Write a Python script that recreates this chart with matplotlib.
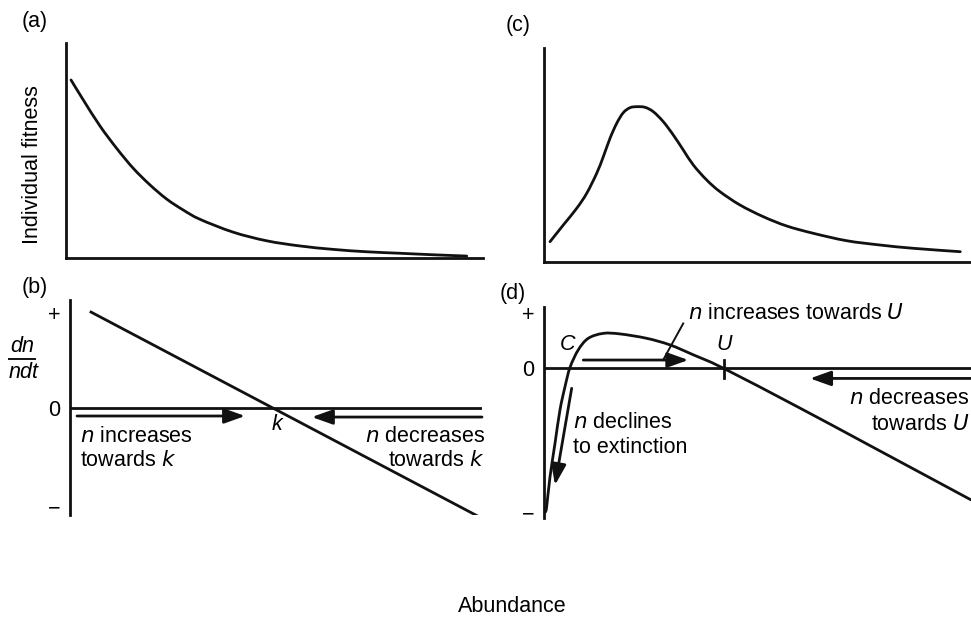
import matplotlib
matplotlib.use("Agg")
import matplotlib.pyplot as plt
from matplotlib.lines import Line2D
from matplotlib.path import Path
from matplotlib.patches import PathPatch
import numpy as np

plt.rcParams['font.family'] = ['Liberation Sans', 'DejaVu Sans']

# ---------------- data ----------------
# (a) individual fitness vs abundance (decreasing)
a_x = [1.2, 4.15, 8.15, 12.15, 16.14, 20.14, 24.15, 28.13, 32.13, 40.12,
       48.13, 56.12, 64.1, 72.1, 80.1, 88.1, 96.1]
a_y = [82.8, 73.5, 61.4, 51.0, 41.7, 34.0, 27.4, 22.3, 18.0, 12.0,
       8.0, 5.6, 4.0, 2.9, 2.2, 1.5, 0.9]

# (c) individual fitness vs abundance (hump-shaped, Allee effect)
c_x = [1.41, 4.52, 7.66, 10.0, 12.34, 13.89, 15.46, 17.03, 18.57, 20.14,
       21.71, 23.65, 25.60, 27.94, 30.28, 32.62, 34.97, 38.1, 41.22, 45.9,
       51.36, 56.85, 63.07, 70.87, 78.69, 86.49, 97.49]
c_y = [9.49, 17.29, 25.09, 32.1, 41.45, 49.21, 57.8, 64.81, 69.77, 72.1,
       72.57, 72.29, 70.23, 65.56, 59.35, 52.34, 45.33, 38.32, 32.85, 26.64,
       21.17, 16.82, 13.41, 9.95, 7.94, 6.40, 4.81]

# (b) per-capita growth rate, linear density dependence
b_x = [5.1, 99.5]
b_y = [1.01, -1.15]
b_k = 49.2
b_ticks = [1.0, 0.0, -1.04]
tick_labels = ['+', '0', '\u2212']

# (d) per-capita growth rate with Allee effect
d_x = [0.35, 0.63, 1.41, 2.58, 3.75, 4.92, 6.09, 8.03, 10.37, 13.89, 17.80,
       24.05, 29.51, 34.96, 41.9, 59.95, 75.57, 100.0]
d_y = [-2.62, -2.52, -1.98, -1.37, -0.76, -0.34, 0.01, 0.33, 0.54, 0.63, 0.62,
       0.54, 0.42, 0.24, 0.0, -0.73, -1.38, -2.40]
d_C = 6.09
d_U = 42.2
d_ticks = [1.0, 0.0, -2.62]

# ---------------- figure ----------------
W, H = 971, 619
fig = plt.figure(figsize=(W / 100, H / 100), dpi=100)
fig.patch.set_facecolor('white')

FS = 15.5
LW = 2.0
INK = '#111111'


def fx(px):
    return px / W


def fy(py):
    return 1 - py / H


def make_ax(L, R, T, B):
    ax = fig.add_axes([fx(L), fy(B), (R - L) / W, (B - T) / H])
    ax.set_facecolor('none')
    for s in ['top', 'right']:
        ax.spines[s].set_visible(False)
    for s in ['left', 'bottom']:
        ax.spines[s].set_linewidth(LW)
        ax.spines[s].set_color(INK)
    ax.set_xticks([])
    ax.set_yticks([])
    return ax


def smooth_curve(ax, xs, ys):
    """Draw a smooth curve through the read points (Catmull-Rom as Bezier)."""
    p = np.column_stack([xs, ys]).astype(float)
    n = len(p)
    verts = [p[0]]
    codes = [Path.MOVETO]
    for i in range(n - 1):
        p0 = p[i - 1] if i > 0 else p[i]
        p1 = p[i]
        p2 = p[i + 1]
        p3 = p[i + 2] if i + 2 < n else p[i + 1]
        c1 = p1 + (p2 - p0) / 6.0
        c2 = p2 - (p3 - p1) / 6.0
        verts += [c1, c2, p2]
        codes += [Path.CURVE4] * 3
    patch = PathPatch(Path(verts, codes), facecolor='none', edgecolor=INK,
                      lw=LW, capstyle='round', joinstyle='round')
    ax.add_patch(patch)


def arrow(ax, tail, tip):
    ax.annotate('', xy=tip, xytext=tail,
                arrowprops=dict(arrowstyle='-|>,head_length=0.7,head_width=0.25',
                                mutation_scale=18, color=INK, lw=LW,
                                shrinkA=0, shrinkB=0),
                annotation_clip=False)


# (a)
ax_a = make_ax(66, 483, 43, 258)
ax_a.set_xlim(0, 100)
ax_a.set_ylim(0, 100)
smooth_curve(ax_a, a_x, a_y)

# (c)
ax_c = make_ax(544, 971, 48, 262)
ax_c.set_xlim(0, 100)
ax_c.set_ylim(0, 100)
smooth_curve(ax_c, c_x, c_y)

# (b)
ax_b = make_ax(70, 482, 300, 515)
ax_b.spines['bottom'].set_visible(False)
ax_b.set_xlim(0, 100)
ax_b.set_ylim(-1.126, 1.137)
ax_b.axhline(0, color=INK, lw=LW)
ax_b.plot(b_x, b_y, color=INK, lw=LW)
ax_b.set_yticks(b_ticks)
ax_b.set_yticklabels(tick_labels, fontsize=FS)
ax_b.tick_params(axis='y', length=0, pad=7)
arrow(ax_b, (1.7, -0.084), (42.5, -0.084))
arrow(ax_b, (100, -0.095), (58.7, -0.095))
ax_b.text(b_k + 1.0, -0.17, 'k', style='italic', fontsize=FS, ha='center', va='center')
ax_b.text(2.5, -0.30, '$\\mathit{n}$ increases', fontsize=FS, ha='left', va='center')
ax_b.text(2.5, -0.55, 'towards $\\mathit{k}$', fontsize=FS, ha='left', va='center')
ax_b.text(100.7, -0.30, '$\\mathit{n}$ decreases', fontsize=FS, ha='right', va='center')
ax_b.text(100.7, -0.55, 'towards $\\mathit{k}$', fontsize=FS, ha='right', va='center')

# (d)
ax_d = make_ax(544, 971, 307, 518)
ax_d.spines['bottom'].set_visible(False)
ax_d.set_xlim(0, 100)
ax_d.set_ylim(-2.73, 1.11)
ax_d.axhline(0, color=INK, lw=LW)
smooth_curve(ax_d, d_x, d_y)
ax_d.plot([d_U, d_U], [0.15, -0.18], color=INK, lw=LW)
ax_d.set_yticks(d_ticks)
ax_d.set_yticklabels(tick_labels, fontsize=FS)
ax_d.tick_params(axis='y', length=0, pad=7)
arrow(ax_d, (9.2, 0.145), (33.8, 0.145))
arrow(ax_d, (100.5, -0.19), (62.3, -0.19))
arrow(ax_d, (6.48, -0.37), (2.58, -2.13))
ax_d.plot([32.6, 27.9], [0.81, 0.145], color=INK, lw=1.4)
ax_d.text(d_C - 0.5, 0.42, 'C', style='italic', fontsize=FS, ha='center', va='center')
ax_d.text(d_U, 0.42, 'U', style='italic', fontsize=FS, ha='center', va='center')
ax_d.text(33.8, 1.0, '$\\mathit{n}$ increases towards $\\mathit{U}$', fontsize=FS,
          ha='left', va='center')
ax_d.text(99.6, -0.55, '$\\mathit{n}$ decreases', fontsize=FS, ha='right', va='center',
          clip_on=False)
ax_d.text(99.6, -1.02, 'towards $\\mathit{U}$', fontsize=FS, ha='right', va='center',
          clip_on=False)
ax_d.text(6.8, -1.0, '$\\mathit{n}$ declines', fontsize=FS, ha='left', va='center')
ax_d.text(6.8, -1.45, 'to extinction', fontsize=FS, ha='left', va='center')

# panel letters and axis labels
fig.text(fx(22), fy(22), '(a)', fontsize=FS, ha='left', va='center')
fig.text(fx(506), fy(26), '(c)', fontsize=FS, ha='left', va='center')
fig.text(fx(22), fy(288), '(b)', fontsize=FS, ha='left', va='center')
fig.text(fx(500), fy(294), '(d)', fontsize=FS, ha='left', va='center')
fig.text(fx(33), fy(165), 'Individual fitness', fontsize=FS, rotation=90,
         ha='center', va='center')
fig.text(fx(10), fy(347), 'dn', fontsize=FS, style='italic', ha='left', va='center')
fig.add_artist(Line2D([fx(9), fx(35)], [fy(359), fy(359)], color=INK, lw=1.4))
fig.text(fx(9), fy(373), 'ndt', fontsize=FS, style='italic', ha='left', va='center')
fig.text(fx(512), fy(607), 'Abundance', fontsize=FS, ha='center', va='center')

fig.savefig('out.png', dpi=100, facecolor='white')
